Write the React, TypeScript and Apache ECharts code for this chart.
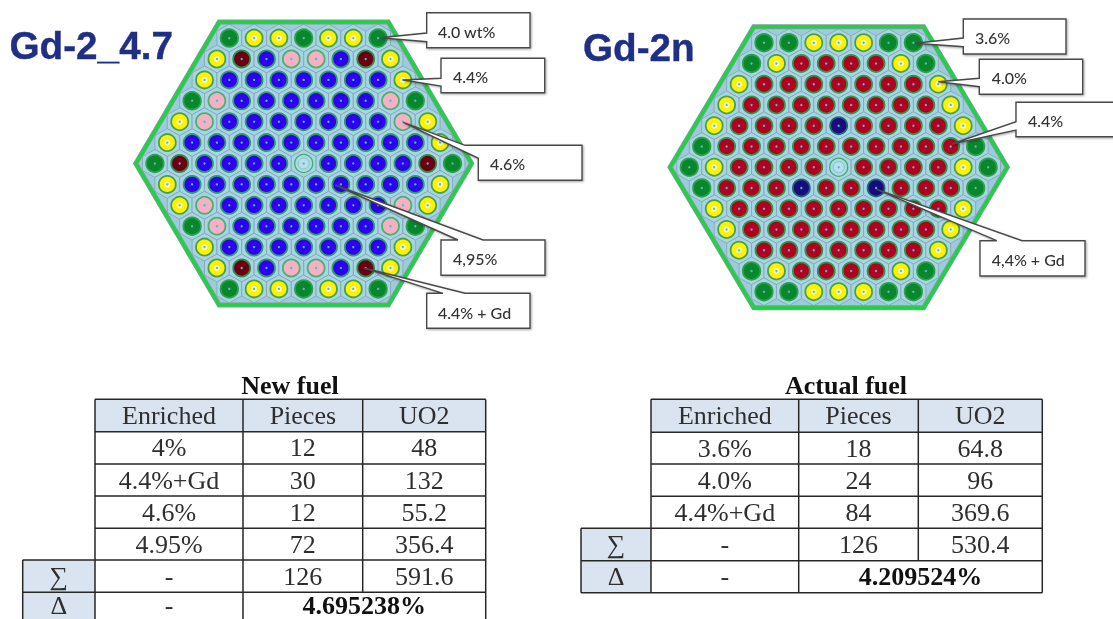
import React, { useEffect, useRef } from "react";
import * as echarts from "echarts";

// ---------- fuel maps: G 3.6/4.0 green, Y yellow, D 4.4+Gd dark red, P pink, B blue, R red, N navy, C centre tube
const newFuelRows = [
  "GYYGYYG",
  "YDBPPBDY",
  "YBBBBBBBY",
  "GPBBBBBBPG",
  "YPBBBBBBBPY",
  "YBBBBBBBBBBY",
  "GDBBBBCBBBBDG",
  "YBBBBBBBBBBY",
  "YPBBBBBBBPY",
  "GPBBBBBBPG",
  "YBBBBBBBY",
  "YDBPPBDY",
  "GYYGYYG",
];
const actualFuelRows = [
  "GGYYYGG",
  "GYRRRRYG",
  "YRRRRRRRY",
  "YRRRRRRRRY",
  "YRRRRNRRRRY",
  "GRRRRRRRRRRG",
  "GYRRRRCRRRRYG",
  "GRRRNRRNRRRG",
  "YRRRRRRRRRY",
  "YRRRRRRRRY",
  "YRRRRRRRY",
  "GYRRRRYG",
  "GGYYYGG",
];
const outlineVertices = [
  [-3.41, -6.77],
  [3.41, -6.77],
  [6.77, 0],
  [3.41, 6.77],
  [-3.41, 6.77],
  [-6.77, 0],
];

// ---------- tables
const tableHeaders = ["Enriched", "Pieces", "UO2"];
const newFuelTable = [
  ["4%", "12", "48"],
  ["4.4%+Gd", "30", "132"],
  ["4.6%", "12", "55.2"],
  ["4.95%", "72", "356.4"],
];
const newFuelSum = ["-", "126", "591.6"];
const newFuelDelta = ["-", "4.695238%"];
const actualFuelTable = [
  ["3.6%", "18", "64.8"],
  ["4.0%", "24", "96"],
  ["4.4%+Gd", "84", "369.6"],
];
const actualFuelSum = ["-", "126", "530.4"];
const actualFuelDelta = ["-", "4.209524%"];

const PIN: Record<string, { color: string; border: string; size: number }> = {
  G: { color: "#08872B", border: "#2FA04C", size: 17.5 },
  Y: { color: "#FFF200", border: "#45A24A", size: 17 },
  D: { color: "#6A0012", border: "#2E8F4B", size: 17 },
  P: { color: "#F5B0C4", border: "#4FAE70", size: 17 },
  B: { color: "#2D00F0", border: "#2F9E60", size: 17 },
  R: { color: "#B20020", border: "#2C9A4A", size: 17 },
  N: { color: "#1A0A80", border: "#1F6A70", size: 17 },
};

const HEX_PATH = "path://M0,-2L1.732,-1L1.732,1L0,2L-1.732,1L-1.732,-1Z";

function assemblySeries(rows: string[], axis: number, pitchX: number, pitchY: number) {
  const points = rows.flatMap((row, r) =>
    [...row].map((kind, i) => ({ kind, x: i - (row.length - 1) / 2, y: r - 6 }))
  );
  const at = (pred: (k: string) => boolean) =>
    points.filter((p) => pred(p.kind)).map((p) => [p.x, p.y]);
  const base = { xAxisIndex: axis, yAxisIndex: axis, silent: true };
  const outline = (name: string, z: number, build: (pts: number[][]) => any) => ({
    ...base,
    type: "custom",
    name,
    z,
    clip: false,
    data: outlineVertices,
    encode: { x: 0, y: 1 },
    renderItem: (params: any, api: any) => {
      if (params.dataIndex !== 0) return null;
      return build(outlineVertices.map((v) => api.coord(v)));
    },
  });
  const series: any[] = [
    outline("base", 1, (pts) => ({
      type: "polygon",
      shape: { points: pts },
      style: { fill: "#9CCBDB", stroke: "none" },
    })),
    {
      ...base,
      type: "scatter",
      name: "cells",
      z: 2,
      symbol: HEX_PATH,
      symbolSize: [pitchX, pitchY * 1.333],
      itemStyle: { color: "#A6D6E5", borderColor: "#88A3B2", borderWidth: 0.8, opacity: 1 },
      data: points.map((p) => [p.x, p.y]),
    },
    outline("rim", 3, (pts) => ({
      type: "group",
      children: [
        { type: "polygon", shape: { points: pts }, style: { fill: "none", stroke: "#8598A2", lineWidth: 5, lineJoin: "miter" } },
        { type: "polygon", shape: { points: pts }, style: { fill: "none", stroke: "#14D938", lineWidth: 3, lineJoin: "miter" } },
      ],
    })),
  ];
  Object.keys(PIN).forEach((kind) => {
    const data = at((k) => k === kind);
    if (!data.length) return;
    series.push({
      ...base,
      type: "scatter",
      name: kind,
      z: 4,
      symbol: "circle",
      symbolSize: PIN[kind].size,
      itemStyle: { color: PIN[kind].color, borderColor: PIN[kind].border, borderWidth: 1.8, opacity: 1 },
      data,
    });
  });
  series.push(
    {
      ...base,
      type: "scatter",
      name: "tube",
      z: 4,
      symbol: "circle",
      symbolSize: 18,
      itemStyle: { color: "#A9DAE6", borderColor: "#3FAE68", borderWidth: 1.3, opacity: 1 },
      data: at((k) => k === "C"),
    },
    {
      ...base,
      type: "scatter",
      name: "tubeInner",
      z: 5,
      symbol: "circle",
      symbolSize: 11,
      itemStyle: { color: "#B6E0EA", borderColor: "#86B6C6", borderWidth: 0.8, opacity: 1 },
      data: at((k) => k === "C"),
    },
    {
      ...base,
      type: "scatter",
      name: "yellowCore",
      z: 5,
      symbol: "circle",
      symbolSize: 6,
      itemStyle: { color: "#FFFFC0", opacity: 1 },
      data: at((k) => k === "Y"),
    },
    {
      ...base,
      type: "scatter",
      name: "core",
      z: 6,
      symbol: "circle",
      symbolSize: 2.4,
      itemStyle: { color: "#4FBBCC", opacity: 1 },
      data: points.map((p) => [p.x, p.y]),
    }
  );
  return series;
}

const CALLOUTS: { label: string; tx: number; ty: number; pts: number[][] }[] = [
  { label: "4.0 wt%", tx: 438, ty: 31, pts: [[426.7, 12.7], [530, 12.7], [530, 47.7], [426.7, 47.7], [426.7, 41.7], [380, 37.7], [426.7, 33]] },
  { label: "4.4%", tx: 453, ty: 76, pts: [[441, 58.3], [544.7, 58.3], [544.7, 92.7], [441, 92.7], [441, 86], [403.3, 80], [441, 78.3]] },
  { label: "4.6%", tx: 490, ty: 163, pts: [[478.3, 145.3], [582, 145.3], [582, 180.3], [478.3, 180.3], [478.3, 158.3], [403.3, 122.3], [465, 145.3]] },
  { label: "4,95%", tx: 453, ty: 258.5, pts: [[441, 240], [458, 240], [335, 185], [483, 240], [545, 240], [545, 275.3], [441, 275.3]] },
  { label: "4.4% + Gd", tx: 438, ty: 312, pts: [[426.7, 293.3], [443, 293.3], [365, 268.3], [465, 293.3], [530, 293.3], [530, 328.3], [426.7, 328.3]] },
  { label: "3.6%", tx: 975, ty: 37, pts: [[963.3, 19], [1066, 19], [1066, 54], [963.3, 54], [963.3, 46.7], [915, 43.3], [963.3, 38]] },
  { label: "4.0%", tx: 991.7, ty: 77, pts: [[979.3, 59.3], [1082.7, 59.3], [1082.7, 94.3], [979.3, 94.3], [979.3, 86.7], [938.3, 81.7], [979.3, 78.3]] },
  { label: "4.4%", tx: 1028, ty: 120, pts: [[1016, 102.3], [1125, 102.3], [1125, 136.7], [1016, 136.7], [1016, 130], [951.7, 144], [1016, 121.7]] },
  { label: "4,4% + Gd", tx: 991.7, ty: 259, pts: [[980, 240.7], [996.7, 240.7], [876.7, 189.3], [1022, 240.7], [1085, 240.7], [1085, 276], [980, 276]] },
];

const SERIF = "'Liberation Serif', 'Times New Roman', serif";
const Z = 100;

function txt(text: string, x: number, y: number, size: number, opts: any = {}) {
  return {
    type: "text",
    z: Z + 3,
    style: {
      text,
      x,
      y,
      fontFamily: SERIF,
      fontSize: size,
      fill: "#2E2E2E",
      align: "center",
      verticalAlign: "middle",
      ...opts,
    },
  };
}

function tableGraphic(cfg: {
  title: string;
  titleX: number;
  cols: number[];
  rowsY: number[];
  rows: string[][];
  sum: string[];
  delta: string[];
}) {
  const { cols, rowsY, rows, sum, delta } = cfg;
  const [x0, x1, x2, x3, x4] = cols;
  const mid = (a: number, b: number) => (a + b) / 2;
  const n = rows.length;
  const sumTop = rowsY[n + 1];
  const deltaTop = rowsY[n + 2];
  const bottom = rowsY[n + 3];
  const out: any[] = [];
  const rect = (xa: number, ya: number, xb: number, yb: number) =>
    out.push({ type: "rect", z: Z, shape: { x: xa, y: ya, width: xb - xa, height: yb - ya }, style: { fill: "#DAE4F1" } });
  rect(x1, rowsY[0], x4, rowsY[1]);
  rect(x0, sumTop, x1, bottom);
  const line = (xa: number, ya: number, xb: number, yb: number) =>
    out.push({ type: "line", z: Z + 1, shape: { x1: xa, y1: ya, x2: xb, y2: yb }, style: { stroke: "#262626", lineWidth: 1.5 } });
  rowsY.forEach((y, i) => {
    if (i === n + 3 && bottom > 619) return;
    line(i > n ? x0 : x1, y, x4, y);
  });
  line(x0, sumTop, x0, bottom);
  line(x1, rowsY[0], x1, bottom);
  line(x2, rowsY[0], x2, bottom);
  line(x3, rowsY[0], x3, deltaTop);
  line(x4, rowsY[0], x4, bottom);
  out.push(txt(cfg.title, cfg.titleX, rowsY[0] - 14, 26, { fontWeight: "bold", fill: "#111" }));
  tableHeaders.forEach((h, c) => out.push(txt(h, mid(cols[c + 1], cols[c + 2]), mid(rowsY[0], rowsY[1]), 26)));
  rows.forEach((row, r) =>
    row.forEach((v, c) => out.push(txt(v, mid(cols[c + 1], cols[c + 2]), mid(rowsY[r + 1], rowsY[r + 2]), 26)))
  );
  out.push(txt("∑", mid(x0, x1), mid(sumTop, deltaTop), 26));
  sum.forEach((v, c) => out.push(txt(v, mid(cols[c + 1], cols[c + 2]), mid(sumTop, deltaTop), 26)));
  const dy = Math.min(mid(deltaTop, bottom), 605.5);
  out.push(txt("Δ", mid(x0, x1), dy, 26));
  out.push(txt(delta[0], mid(x1, x2), dy, 26));
  out.push(txt(delta[1], mid(x2, x4), dy, 26, { fontWeight: "bold", fill: "#111" }));
  return out;
}

export default function App() {
  const ref = useRef<HTMLDivElement>(null);
  useEffect(() => {
    document.body.style.margin = "0";
    const chart = echarts.init(ref.current!, undefined, { renderer: "svg" });
    const axisBase = { type: "value", show: false, min: -7, max: 7 };
    const titleStyle = {
      fontFamily: "'Liberation Sans', Arial, sans-serif",
      fontWeight: "bold",
      fill: "#1F2F85",
      stroke: "#1F2F85",
      lineWidth: 0.4,
      align: "left",
    };
    const graphicElements: any[] = [
      ...CALLOUTS.map((c) => ({
        type: "polygon",
        z: Z,
        shape: { points: c.pts },
        style: {
          fill: "#FFFFFF",
          stroke: "#4A4A4A",
          lineWidth: 1.4,
          shadowColor: "rgba(0,0,0,0.35)",
          shadowBlur: 2,
          shadowOffsetX: 1,
          shadowOffsetY: 1,
        },
      })),
      ...CALLOUTS.map((c) =>
        txt(c.label, c.tx, c.ty, 16, { fontFamily: "Lato", fontWeight: 500, fill: "#333333", align: "left" })
      ),
      txt("Gd-2_4.7", 9.5, 45.5, 38.7, titleStyle),
      txt("Gd-2n", 583, 47, 38.7, titleStyle),
      ...tableGraphic({
        title: "New fuel",
        titleX: 290,
        cols: [22.7, 95, 243, 362.7, 485.7],
        rowsY: [399.3, 431.7, 464, 496, 528.3, 560, 592.3, 624.5],
        rows: newFuelTable,
        sum: newFuelSum,
        delta: newFuelDelta,
      }),
      ...tableGraphic({
        title: "Actual fuel",
        titleX: 846,
        cols: [581, 651, 798.7, 918.3, 1042.3],
        rowsY: [399.3, 432.3, 464, 496.3, 528.3, 560.7, 592.7],
        rows: actualFuelTable,
        sum: actualFuelSum,
        delta: actualFuelDelta,
      }),
    ];
    chart.setOption({
      animation: false,
      backgroundColor: "#FFFFFF",
      grid: [
        { left: 130.1, top: 17.2, width: 347.2, height: 292.6 },
        { left: 664.4, top: 21.95, width: 348.6, height: 290.5 },
      ],
      xAxis: [
        { ...axisBase, gridIndex: 0 },
        { ...axisBase, gridIndex: 1 },
      ],
      yAxis: [
        { ...axisBase, gridIndex: 0, inverse: true },
        { ...axisBase, gridIndex: 1, inverse: true },
      ],
      series: [
        ...assemblySeries(newFuelRows, 0, 24.8, 20.9),
        ...assemblySeries(actualFuelRows, 1, 24.9, 20.75),
      ],
      graphic: { elements: graphicElements },
    });
    return () => chart.dispose();
  }, []);
  return (
    <div
      ref={ref}
      style={{ width: 1113, height: 619, filter: "blur(0.4px)", overflow: "hidden" }}
    />
  );
}
